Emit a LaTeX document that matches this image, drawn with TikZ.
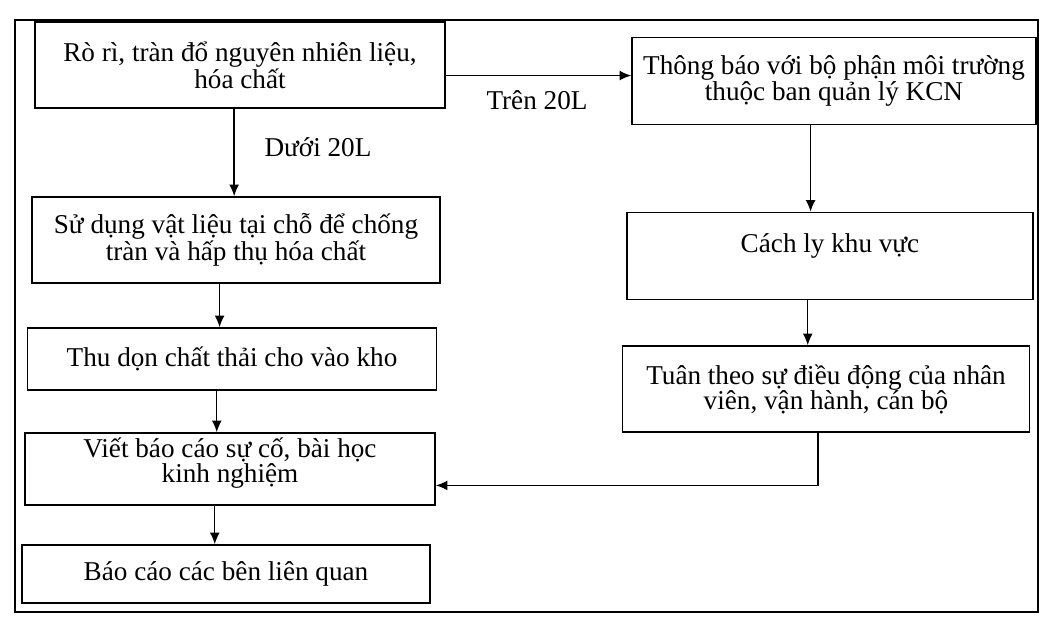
\documentclass[tikz,border=0pt]{standalone}
\usepackage{fontspec}
\setmainfont{Liberation Serif}
\usetikzlibrary{arrows.meta}

\begin{document}
\begin{tikzpicture}[x=0.03cm,y=-0.03cm,>={Latex[length=10pt,width=8.5pt]}]
 \tikzstyle{stepbox} = [draw,line width=1.3pt,align=center,inner sep=2,font=\fontsize{23.2}{21.5}\selectfont]
 \tikzstyle{flow} = [->,line width=1.2pt]
 \tikzstyle{cond} = [font=\fontsize{23.2}{21.5}\selectfont]
 \newcommand{\pxu}{0.03cm}
 \useasboundingbox (0,0) rectangle (1044,633);

% Frame round everything
 \draw[line width=1.6pt] (15,20) rectangle (1038,612);

% Left column
 \node[stepbox,minimum width=410*\pxu,minimum height=86*\pxu] (spill) at (240,65) {Rò rì, tràn đổ nguyên nhiên liệu,\\ hóa chất};
 \node[stepbox,minimum width=408*\pxu,minimum height=86*\pxu] (absorb) at (236,240) {Sử dụng vật liệu tại chỗ để chống\\ tràn và hấp thụ hóa chất};
 \node[stepbox,minimum width=409*\pxu,minimum height=62*\pxu] (collect) at (232,359) {Thu dọn chất thải cho vào kho};
 \node[stepbox,minimum width=410*\pxu,minimum height=72*\pxu] (report) at (230,469) {Viết báo cáo sự cố, bài học\\ kinh nghiệm\\[-6pt] ~};
 \node[stepbox,minimum width=408*\pxu,minimum height=58*\pxu] (inform) at (226,574) {Báo cáo các bên liên quan};

% Right column
 \node[stepbox,minimum width=404*\pxu,minimum height=87*\pxu] (notify) at (834,81) {Thông báo với bộ phận môi trường\\ thuộc ban quản lý KCN};
 \node[stepbox,minimum width=406*\pxu,minimum height=87*\pxu] (isolate) at (830,256) {Cách ly khu vực\\ ~};
 \node[stepbox,minimum width=407*\pxu,minimum height=86*\pxu] (follow) at (826,389) {Tuân theo sự điều động của nhân\\ viên, vận hành, cán bộ};

% Conditions
 \node[cond] (below) at (318,147) {Dưới 20L};
 \node[cond] (above) at (537,100) {Trên 20L};

% Arrows
 \draw[flow] ([xshift=-5pt]spill.south) -- ([xshift=-5pt]spill.south |- absorb.north);
 \draw[flow] ([yshift=-9pt]spill.east) -- ([yshift=-9pt]spill.east -| notify.west);
 \draw[flow] ([xshift=-14pt]absorb.south) -- ([xshift=-14pt]absorb.south |- collect.north);
 \draw[flow] ([xshift=-13pt]collect.south) -- ([xshift=-13pt]collect.south |- report.north);
 \draw[flow] ([xshift=-13pt]report.south) -- ([xshift=-13pt]report.south |- inform.north);
 \draw[flow] ([xshift=-20pt]notify.south) -- ([xshift=-20pt]notify.south |- isolate.north);
 \draw[flow] ([xshift=-19pt]isolate.south) -- ([xshift=-19pt]isolate.south |- follow.north);
 \draw[flow] ([xshift=-7pt]follow.south) |- ([yshift=-14pt]report.east);
\end{tikzpicture}
\end{document}
